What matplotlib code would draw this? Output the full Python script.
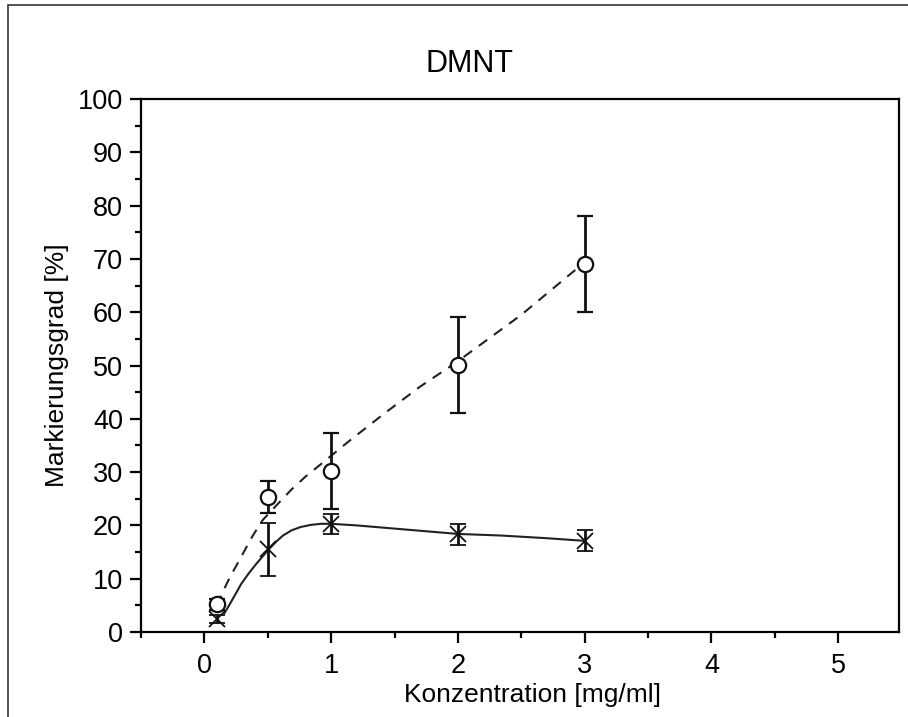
import numpy as np
import matplotlib
matplotlib.use("Agg")
import matplotlib.pyplot as plt
from matplotlib.patches import Rectangle
from matplotlib.ticker import MultipleLocator

plt.rcParams['font.family'] = ['Liberation Sans', 'DejaVu Sans']

# Messwerte (Kreise, gestrichelt)
konz = [0.1, 0.5, 1, 2, 3]
kreis_y = [5.2, 25.3, 30.2, 50.1, 69.1]
kreis_err = [1.0, 3.0, 7.1, 9.0, 9.0]

# Messwerte (Kreuze, durchgezogen)
kreuz_y = [2.4, 15.5, 20.2, 18.3, 17.1]
kreuz_err = [0.8, 5.0, 1.9, 2.0, 1.95]

# Ausgleichskurven
kurve1_x = [0.1, 0.14, 0.2, 0.29, 0.38, 0.46, 0.55, 0.69, 0.8, 0.92, 1.13, 1.42, 1.7, 2.0, 2.5, 2.92, 3.0]
kurve1_y = [5.0, 7.3, 10.2, 14.1, 18.0, 21.0, 23.3, 26.8, 29.2, 31.5, 35.6, 41.0, 46.0, 50.8, 59.5, 67.8, 69.1]
kurve2_x = [0.16, 0.2, 0.25, 0.29, 0.35, 0.41, 0.5, 0.56, 0.62, 0.69, 0.76, 0.84, 0.92, 1.0, 1.2, 1.4, 1.7, 2.0, 2.34, 2.7, 3.0]
kurve2_y = [3.6, 5.2, 7.3, 9.0, 11.0, 12.8, 15.3, 16.8, 18.1, 19.1, 19.7, 20.1, 20.3, 20.3, 20.0, 19.6, 19.0, 18.4, 18.1, 17.6, 17.1]

fig = plt.figure(figsize=(9.08, 7.17), dpi=100)
ax = fig.add_axes([141/908, 1-632/717, (899-141)/908, (632-99)/717])

ax.plot(kurve1_x, kurve1_y, '--', color='#222222', lw=1.5, dashes=(5, 4))
ax.plot(kurve2_x, kurve2_y, '-', color='#222222', lw=1.5)

ax.errorbar(konz, kreis_y, yerr=kreis_err, fmt='o', mfc='white', mec='#111111',
            ms=11, mew=1.6, ecolor='#111111', elinewidth=2, capsize=6, capthick=2)
ax.errorbar(konz, kreuz_y, yerr=kreuz_err, fmt='x', color='#111111',
            ms=11, mew=1.3, ecolor='#111111', elinewidth=2, capsize=6, capthick=2)

ax.set_xlim(-0.5, 5.48)
ax.set_ylim(0, 100)
ax.xaxis.set_major_locator(MultipleLocator(1))
ax.xaxis.set_minor_locator(MultipleLocator(0.5))
ax.yaxis.set_major_locator(MultipleLocator(10))
ax.yaxis.set_minor_locator(MultipleLocator(5))
ax.tick_params(which='major', length=8, width=1.6, labelsize=19.5, pad=5)
ax.tick_params(axis='x', which='major', pad=7)
ax.tick_params(which='minor', length=4, width=1.6)
ax.tick_params(top=False, right=False)
for s in ax.spines.values():
    s.set_linewidth(1.6)

ax.set_xlabel('Konzentration [mg/ml]', fontsize=19)
ax.xaxis.set_label_coords(0.516, -0.095)
ax.set_ylabel('Markierungsgrad [%]', fontsize=19, labelpad=6)
fig.text(470/908, 1 - 64/717, 'DMNT', fontsize=22, ha='center', va='center')

# Rahmen um die Grafik
fig.add_artist(Rectangle((8/908, -0.1), 2, 1 - 5/717 + 0.1, transform=fig.transFigure,
                         fill=False, lw=1.2, ec='#333333'))

fig.savefig('out.png', dpi=100)
